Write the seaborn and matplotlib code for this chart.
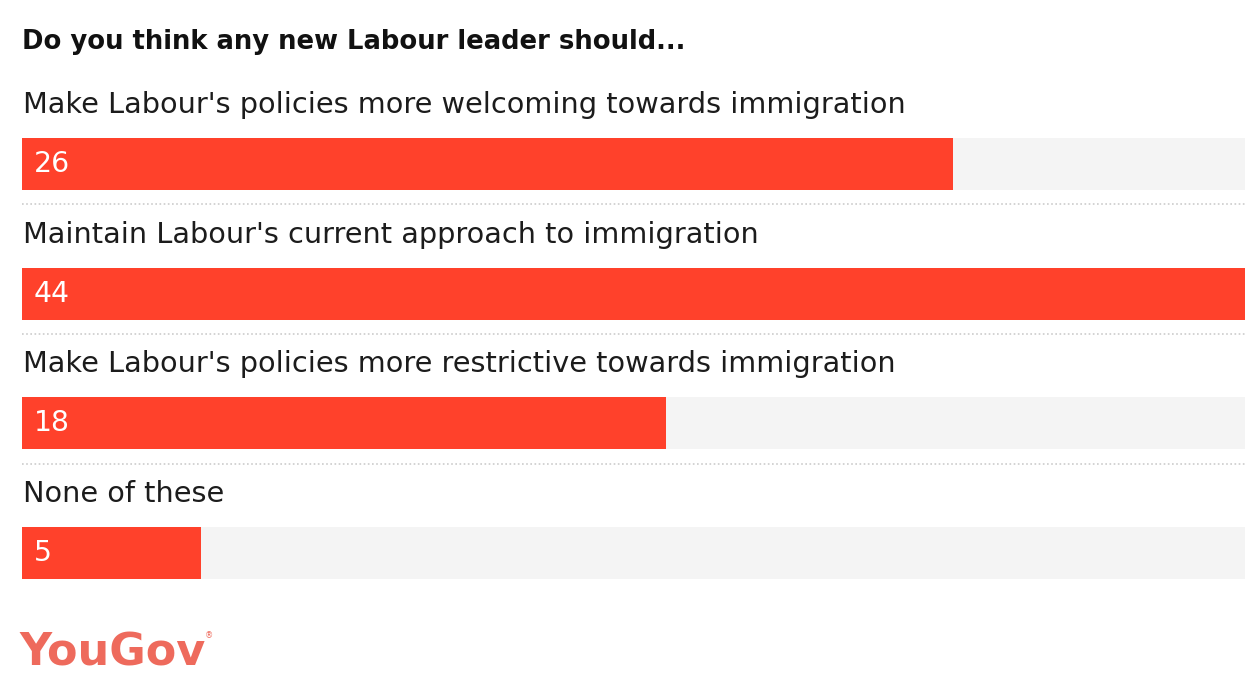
import matplotlib
matplotlib.use("Agg")
import matplotlib.pyplot as plt
import seaborn as sns
import pandas as pd

# ---- data ----
title = "Do you think any new Labour leader should..."
categories = [
    "Make Labour's policies more welcoming towards immigration",
    "Maintain Labour's current approach to immigration",
    "Make Labour's policies more restrictive towards immigration",
    "None of these",
]
values = [26, 44, 18, 5]
value_labels = ["26", "44", "18", "5"]
brand = "YouGov"

# ---- style ----
sns.set_theme(style="white")
plt.rcParams["font.family"] = ["DejaVu Sans"]

BAR = "#FF412B"
TRACK = "#F4F4F4"
W, H = 1245, 700
fig = plt.figure(figsize=(W / 100, H / 100), dpi=100)
ax = fig.add_axes([0, 0, 1, 1])

# pixel geometry -> data scales
px_per_unit_x = 35.8
left_px = 22
first_center_px = 164
row_px = 129.7
xmin = -left_px / px_per_unit_x
xmax = (W - left_px) / px_per_unit_x
ymin = -first_center_px / row_px
ymax = (H - first_center_px) / row_px

df = pd.DataFrame({"cat": categories, "val": values})
df["track"] = xmax

bar_w = 52 / row_px
sns.barplot(data=df, y="cat", x="track", order=categories, color=TRACK,
            width=bar_w, ax=ax, saturation=1, edgecolor="none", orient="h")
sns.barplot(data=df, y="cat", x="val", order=categories, color=BAR,
            width=bar_w, ax=ax, saturation=1, edgecolor="none", orient="h")

ax.set_xlim(xmin, xmax)
ax.set_ylim(ymax, ymin)
ax.axis("off")

for i, (cat, lab) in enumerate(zip(categories, value_labels)):
    ax.text(0.03, i - 0.455, cat, ha="left", va="center", fontsize=20.7,
            color="#1C1C1C")
    ax.text(12 / px_per_unit_x, i + 0.0, lab, ha="left", va="center",
            fontsize=20.3, color="white")
    if i < len(categories) - 1:
        ax.plot([0, xmax], [i + 0.31, i + 0.31], color="#CCCCCC",
                linestyle=(0, (1, 1.5)), linewidth=1.2)

fig.text(22 / W, 1 - 42 / H, title, ha="left", va="center", fontsize=18.6,
         fontweight="bold", color="#111111")
fig.text(19 / W, 1 - 653 / H, brand, ha="left", va="center", fontsize=32,
         fontweight="bold", color="#EE6A5C")
fig.text(205 / W, 1 - 636 / H, "®", ha="left", va="center", fontsize=6,
         color="#EE6A5C")

fig.savefig("out.png", dpi=100)
